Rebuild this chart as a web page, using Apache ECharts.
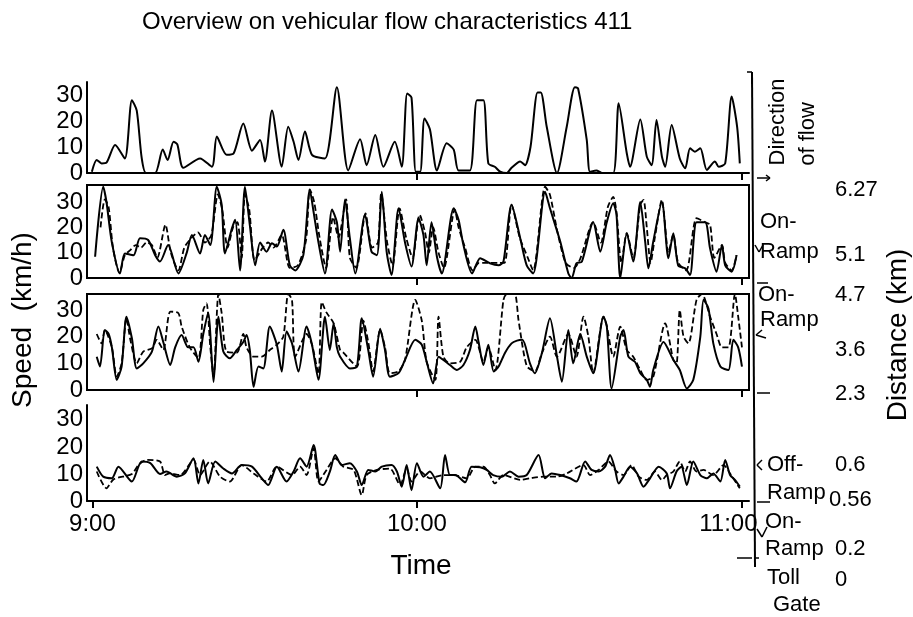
<!DOCTYPE html>
<html><head><meta charset="utf-8">
<script src="https://cdn.jsdelivr.net/npm/echarts@6/dist/echarts.min.js"></script>
<style>html,body{margin:0;padding:0;background:#fff}#c{width:913px;height:617px}</style>
</head><body><div id="c"></div><script>
// ---- data (minutes after 9:00, speed km/h) ----
const tickMinutes = [0, 60, 120];
const timeLabels = ['9:00', '10:00', '11:00'];
const speedTicks = [0, 10, 20, 30];
const distanceLabels = ['6.27', '5.1', '4.7', '3.6', '2.3', '0.6', '0.56', '0.2', '0'];
const siteLabels = ['Direction of flow', 'On-Ramp', 'On-Ramp', 'Off-Ramp', 'On-Ramp', 'Toll Gate'];

const p1Time = [-0.1,0.8,1.7,2.6,4.2,6.0,7.3,8.2,9.1,9.9,11.6,13.0,13.9,15.0,15.7,16.8,19.9,22.1,23.0,24.8,26.1,27.9,29.5,31.0,31.9,33.2,35.0,36.2,37.2,38.1,39.3,40.6,43.0,45.2,47.3,49.5,50.7,52.3,53.8,55.9,57.2,58.2,59.0,59.8,60.6,61.4,62.4,63.7,65.5,66.8,67.7,69.8,71.1,72.3,73.2,74.4,75.4,76.6,77.5,79.1,80.0,81.0,82.3,82.9,84.0,85.9,87.7,89.2,89.8,91.4,92.0,93.2,94.2,96.3,97.3,98.8,99.4,101.3,102.5,103.4,104.3,105.3,105.9,107.1,108.6,109.6,110.5,111.4,112.4,113.6,115.1,115.8,117.0,118.2,119.2,119.7];
const p1Speed = [0.5,5,3.7,4,10.8,5.6,28,24,6,0,0,9,5,12,11,2,5.6,2.4,14,7,7.5,19,8.6,12.7,4.4,24,2.4,17.8,12,5,16,7,5.6,33,1,13,3,14.6,2.4,12,2.4,30.6,29,0.5,0.5,21,16.8,1,11.4,9,1,1,28,28,3.7,2.4,0.5,0,2,4.4,3,10,31,31,17.8,0,17.8,33,32.5,12.7,0.5,1,0,0,26.8,7.6,2.4,20.6,6.3,3,20.4,6.3,2.4,18.5,5.6,1.8,9.5,8.2,9.5,1.2,4.4,2.4,3.7,29.4,17.8,3.7];

const p2SolidTime = [0.5,2.0,2.6,3.6,5.1,6.0,7.6,8.8,10.3,11.6,12.5,14.0,15.9,17.4,18.4,19.9,20.8,21.8,23.0,23.9,24.5,25.8,26.4,27.3,28.2,29.1,30.1,31.0,32.2,33.2,34.1,35.3,36.5,37.5,39.0,40.2,40.9,41.8,43.0,44.3,45.2,45.8,46.7,47.6,48.6,50.4,51.6,52.6,53.5,54.4,55.3,56.6,57.8,59.0,60.3,61.2,61.8,62.7,63.7,64.6,66.8,67.7,68.6,70.2,71.7,73.5,75.1,76.0,77.5,79.1,80.3,81.5,83.7,84.6,86.5,88.0,88.6,89.5,90.5,92.6,93.9,95.1,96.3,96.9,97.6,98.8,100.0,101.3,102.2,102.8,103.7,105.3,106.5,107.4,108.3,109.6,110.5,111.7,113.3,114.2,115.4,116.4,117.0,118.2,119.1];
const p2SolidSpeed = [8.4,36,30,14,1.8,9.7,9,15.7,15,9,6.5,13,1.8,9.7,17,9.7,17,13,36,29,9.7,19.6,23,3,36,21,5,14,10.4,13.7,12.4,19,5,3,9,34.8,26,14,1.8,27,22,10.4,31,15.7,1.8,25,10.4,9,34,10.4,1.2,27.5,14,4.5,23.6,17,5,22,8.4,1.8,27.5,23,13,1.8,7.8,5.8,5,6.5,28.9,15.7,5,1.8,34,27.5,14.4,1.8,0,5.8,6.5,22,10.4,22,29.5,25,0,17.7,6.5,30,14.4,3.8,14.4,30,7.8,17.7,5,3.8,1.2,22,22,11.7,2.5,13,5,2.5,9];
const p2DashTime = [1.5,2.3,3.0,3.8,5.0,6.0,7.0,8.0,9.0,10.0,11.0,12.0,13.5,14.5,15.9,17.0,18.4,19.5,20.8,22.0,23.2,24.0,25.0,26.0,26.8,27.6,28.2,29.0,30.0,31.5,32.5,33.5,35.0,36.5,38.0,39.5,40.2,41.0,42.0,43.2,44.5,45.5,46.9,47.6,48.8,50.5,51.7,52.8,53.4,54.5,55.5,56.8,58.0,59.2,60.5,61.5,62.2,63.0,64.0,65.0,67.0,67.7,68.9,70.3,71.5,72.5,73.5,75.0,76.2,77.5,79.0,80.5,81.5,83.7,84.6,86.0,87.5,89.0,90.2,92.6,94.0,95.3,96.3,96.9,97.8,98.8,100.0,101.3,101.9,102.5,103.2,104.0,105.3,105.7,106.5,107.4,108.3,109.8,111.7,113.3,114.2,115.0,116.4,117.0,118.2,119.1];
const p2DashSpeed = [20,31,28,12,2,9,11,13,12,14,13,8,21,10,3,12,16,18,14,17,33,27,12,20,22,8,33,27,7,12,14,12,17,4,5,15,35,30,16,4,24,16,31,8,4,25.5,12,14,33.5,14,5,27.5,16,8,25,18,10,20,10,4,27,20,12,3,6,6,6,6,6,28.9,16,8,3,36,32.8,18,6,4,7.6,22,14,28,32,26,6,17.7,8,29,30.8,20,6,16,30.8,25,10,17,6,3,23.6,22,21,8,13,6,3,9];

const p3SolidTime = [0.8,1.4,2.3,3.0,3.6,4.5,5.4,6.3,7.3,8.2,9.4,11.0,12.2,13.1,14.4,15.3,16.5,17.7,18.7,19.6,20.5,21.4,22.4,23.3,24.2,25.4,26.7,27.9,28.5,29.1,29.8,30.7,31.6,32.8,34.1,35.0,35.9,36.9,38.1,39.6,40.6,41.8,43.0,43.9,44.6,45.2,45.8,47.6,48.9,49.8,51.0,51.9,53.2,54.1,55.0,56.6,57.8,59.7,60.9,61.8,63.0,64.0,64.9,66.1,67.4,68.6,69.8,70.8,71.4,72.3,73.2,74.2,75.1,76.3,77.5,78.5,79.5,80.9,81.8,83.1,84.6,85.9,86.8,88.0,88.9,90.2,91.4,92.6,94.5,95.1,96.0,97.6,98.2,99.1,100.3,101.3,102.5,103.1,103.7,105.6,107.4,108.6,109.9,111.1,112.4,113.0,113.9,114.8,116.1,117.6,118.5,119.4,120.1];
const p3SolidSpeed = [12.5,8.8,22.5,21,16,3.8,8.8,27.5,19.4,8.1,10,14.4,23.8,18,9.4,16,20.6,16,16,10.6,21,29,3,27.5,14.4,11.9,15,18,20.6,15,1.2,8.8,8.1,23.8,17,6.9,21.9,17.5,6.9,23.8,17,3.8,27.5,15,25,16,12.5,8.1,8.8,26.9,15,5,23,15,5,6.3,11.3,18.8,17,10.6,2.5,12.5,11.3,9.4,7.5,9.4,15,23.8,18,9.4,17,6.9,8.8,14,17.5,18.5,18.8,10,6.3,13.8,26.9,12.5,3.1,22.5,10,21,12.5,6.3,27.5,24,0.6,20,22.5,12.5,10.6,6.3,3.8,1.2,7.5,18,11.3,7.5,0.6,3.8,20,33.8,30.6,17.5,8.8,7.5,18.8,16,8.8];
const p3DashTime = [0.8,1.7,2.3,3.6,4.5,5.4,6.3,7.0,8.2,9.4,11.0,11.9,13.1,14.4,15.9,16.5,18.0,19.6,20.5,21.1,21.8,22.4,23.3,23.9,24.8,26.7,27.9,28.5,29.8,31.3,32.8,34.1,35.3,36.2,36.9,37.5,39.6,40.6,41.8,42.4,43.3,44.6,45.8,46.4,48.9,50.1,51.0,51.9,53.2,54.1,55.0,56.6,57.8,59.7,60.9,61.8,63.4,64.0,64.9,66.1,68.0,69.2,70.8,72.3,73.2,74.5,76.0,76.6,77.2,78.1,78.8,80.3,81.8,83.1,84.6,85.9,88.0,89.5,90.8,91.7,92.6,94.5,95.1,96.3,97.6,98.8,100.0,101.3,102.5,103.7,105.9,107.4,108.0,108.6,109.3,110.2,111.7,112.7,114.2,115.4,116.4,117.6,118.8,119.4,120.1];
const p3DashSpeed = [21,17.5,22.5,16,5,10,27,19,10,14.4,15.6,18.8,15,29.4,28.8,23.8,16,12,30,32.5,16,5,36,28.8,14.4,14,21,16,12.5,12.5,15,17,20,36,33.8,12.5,21,17,6,33,29,25,15,14,8.8,26,18,7,22.5,16,6.3,7,11.3,33.8,26,10.6,3.8,27.5,12.5,10,10.6,16,18.8,10.6,16,7.5,33.8,36,36,36,26,9,7,13.8,20,12.5,21,12.5,27.5,20,6.3,27.5,24,12.5,23.8,15,12.5,7.5,3.8,5,25,11.3,10,30,20,17.5,33.8,36,27.5,21,16,16,36,27.5,16];

const p4SolidTime = [0.8,2.0,3.6,4.8,7.3,9.1,10.7,12.5,13.7,15.6,17.1,18.7,19.6,20.5,21.4,22.7,24.2,25.8,27.6,29.5,31.3,32.5,34.1,35.9,37.2,38.4,39.6,40.9,42.0,42.7,43.9,44.9,46.1,47.6,48.9,49.8,51.0,52.3,53.5,55.3,56.3,57.2,58.1,59.0,60.0,61.2,62.4,64.3,65.2,66.1,67.1,68.9,70.1,71.7,72.9,74.1,75.7,77.2,78.8,80.3,82.5,83.7,84.9,86.5,88.3,89.5,91.1,92.3,93.6,94.8,95.7,96.6,97.3,98.2,99.4,100.7,101.9,103.1,104.7,106.2,106.8,108.0,108.9,109.9,111.1,112.4,113.6,114.8,116.1,117.0,117.9,118.8,119.7];
const p4SolidSpeed = [12.7,9,8.4,12.7,7.2,14.6,14,10,10.9,9,10.2,15.8,6.5,15.2,6.5,14.6,12,10.2,13.3,12.7,8.4,5.9,12.7,7.2,10.9,15.8,12.7,20.7,6.5,5.9,10.9,17,13.3,14,10.9,5.9,11.5,10.9,12.7,13.3,10.9,5.3,13.3,4,14,9,10.9,4.7,17,9.6,9.6,6.9,12.7,12.5,11.5,9.6,9,10.9,9,9.6,17,8.4,10.2,9.6,8.4,7.2,14.6,11.5,10.9,12.7,17,12,6.5,9,12.7,10.2,5.3,8.4,12.7,10.2,4.7,10.9,12.7,5.9,14.6,9.6,8.4,10.2,7.2,15.2,9.6,7.8,5.3];
const p4DashTime = [0.8,2.6,3.9,7.3,8.5,10.0,12.5,13.4,14.3,16.2,18.7,19.9,21.7,23.6,25.4,27.6,29.8,32.2,34.1,36.9,38.4,39.6,40.9,41.8,43.3,44.9,46.4,48.3,49.8,50.7,52.6,55.0,56.9,58.1,59.0,60.6,62.4,64.9,66.8,69.2,70.8,72.3,73.5,74.4,76.0,79.1,80.9,83.4,85.9,87.7,90.8,92.0,93.6,95.4,96.9,98.2,99.7,101.0,102.5,104.0,105.3,106.2,107.4,108.6,109.6,110.5,111.7,113.0,114.8,116.7,117.9,119.1,119.7];
const p4DashSpeed = [10.9,4.7,8,10,13.3,15.2,14.6,9.6,10.2,9.6,15.2,9.6,14.6,9,7.2,13.3,10.2,7.2,12.7,9.6,12.7,9.6,19.5,7.2,11.5,15.8,12.7,11.5,2.2,9.6,11.5,12,5.9,12,7.2,10.9,8.4,9.6,9.6,8.4,12.7,12.7,9.6,6.5,9.6,7.8,8.4,9,9,10.2,13.3,9.6,11.5,14.6,10.9,9.6,13.3,9,7.8,10.9,7.8,9.6,10.9,14.6,10.9,14.6,10.9,11.5,9.6,13.3,10.2,6.5,4.7];

// ---- chart ----
const FONT = '"Liberation Sans", Arial, sans-serif';
const zip = (t, v) => t.map((x, i) => [x, v[i]]);
const chart = echarts.init(document.getElementById('c'), null, {renderer: 'canvas'});

const panels = [
  {top: 82, height: 91, max: 35, box: false},
  {top: 185, height: 93, max: 36.7, box: true},
  {top: 294, height: 96, max: 36, box: true},
  {top: 405, height: 96, max: 35.5, box: false}
];
const XMIN = -1, XMAX = 121.4;

const grids = panels.map(p => ({
  left: 87, width: 662, top: p.top, height: p.height,
  show: p.box, borderColor: '#000', borderWidth: 2, backgroundColor: 'transparent'
}));

const xAxes = panels.map((p, i) => ({
  type: 'value', gridIndex: i, min: XMIN, max: XMAX,
  axisLine: {show: true, onZero: false, lineStyle: {color: '#000', width: 2}},
  splitLine: {show: false},
  axisTick: {show: true, customValues: i === 3 ? tickMinutes : tickMinutes.slice(1), length: 7, lineStyle: {color: '#000', width: 2}},
  axisLabel: i === 3 ? {
    show: true, customValues: tickMinutes, margin: 11, color: '#000', fontSize: 24, fontFamily: FONT,
    formatter: v => {
      const k = tickMinutes.indexOf(v);
      if (k < 0) return '';
      return k === 2 ? '{r|' + timeLabels[k] + '}' : timeLabels[k];
    },
    rich: {r: {fontSize: 24, fontFamily: FONT, color: '#000', padding: [0, 26, 0, 0]}}
  } : {show: false}
}));

const yAxes = panels.map((p, i) => ({
  type: 'value', gridIndex: i, min: 0, max: p.max, interval: 10,
  axisLine: {show: true, onZero: false, lineStyle: {color: '#000', width: 2}},
  axisTick: {show: false},
  splitLine: {show: false},
  axisLabel: {
    show: true, customValues: speedTicks, margin: 4, color: '#000', fontSize: 24, fontFamily: FONT,
    formatter: v => (speedTicks.indexOf(v) >= 0 ? String(v) : '')
  }
}));

const solid = (idx, data) => ({
  type: 'line', xAxisIndex: idx, yAxisIndex: idx, data, symbol: 'none', smooth: 0.25,
  lineStyle: {color: '#000', width: 2}, z: 3, silent: true
});
const dashed = (idx, data) => ({
  type: 'line', xAxisIndex: idx, yAxisIndex: idx, data, symbol: 'none', smooth: 0.25,
  lineStyle: {color: '#000', width: 1.8, type: [6, 3]}, z: 2, silent: true
});

const series = [
  solid(0, zip(p1Time, p1Speed)),
  dashed(1, zip(p2DashTime, p2DashSpeed)),
  solid(1, zip(p2SolidTime, p2SolidSpeed)),
  dashed(2, zip(p3DashTime, p3DashSpeed)),
  solid(2, zip(p3SolidTime, p3SolidSpeed)),
  dashed(3, zip(p4DashTime, p4DashSpeed)),
  solid(3, zip(p4SolidTime, p4SolidSpeed))
];

const txt = (s, x, y, size, align) => ({
  type: 'text', x, y, silent: true,
  style: {text: s, font: size + 'px ' + FONT, fill: '#000', align: align || 'left', verticalAlign: 'middle'}
});
const rtxt = (s, x, y, size) => ({
  type: 'text', x, y, rotation: Math.PI / 2, silent: true,
  style: {text: s, font: size + 'px ' + FONT, fill: '#000', align: 'center', verticalAlign: 'middle'}
});
const ln = (x1, y1, x2, y2, w) => ({
  type: 'line', silent: true, shape: {x1, y1, x2, y2}, style: {stroke: '#000', lineWidth: w || 1.5}
});

const dirWords = siteLabels[0].split(' ');
const ramp = s => s.split('-');
const graphics = [
  txt('Overview on vehicular flow characteristics 411', 142, 22, 24),
  txt('Time', 421, 566, 28, 'center'),
  rtxt('Speed  (km/h)', 23, 320, 28),
  rtxt('Distance (km)', 898, 335, 28),
  rtxt(dirWords[0], 778, 122, 22),
  rtxt(dirWords[1] + ' ' + dirWords[2], 808, 134, 22),
  // site labels
  txt(ramp(siteLabels[1])[0] + '-', 760, 222, 22),
  txt(ramp(siteLabels[1])[1], 760, 252, 22),
  txt(ramp(siteLabels[2])[0] + '-', 758, 295, 22),
  txt(ramp(siteLabels[2])[1], 760, 320, 22),
  txt(ramp(siteLabels[3])[0] + '-', 767, 465, 22),
  txt(ramp(siteLabels[3])[1], 767, 493, 22),
  txt(ramp(siteLabels[4])[0] + '-', 765, 522, 22),
  txt(ramp(siteLabels[4])[1], 765, 549, 22),
  txt(siteLabels[5].split(' ')[0], 767, 578, 22),
  txt(siteLabels[5].split(' ')[1], 773, 605, 22),
  // distance values
  txt(distanceLabels[0], 835, 190, 22),
  txt(distanceLabels[1], 835, 255, 22),
  txt(distanceLabels[2], 835, 295, 22),
  txt(distanceLabels[3], 835, 350, 22),
  txt(distanceLabels[4], 835, 394, 22),
  txt(distanceLabels[5], 835, 465, 22),
  txt(distanceLabels[6], 829, 500, 22),
  txt(distanceLabels[7], 835, 549, 22),
  txt(distanceLabels[8], 835, 580, 22),
  // distance line and its marks
  ln(752, 72, 755, 567, 2),
  ln(752, 72, 752, 84, 2), ln(747, 72, 752, 72, 1.5),
  ln(757, 178, 770, 178), ln(766, 175, 770, 178), ln(766, 181, 770, 178),
  ln(755, 245, 759, 252), ln(759, 252, 763, 245),
  ln(757, 283, 768, 283),
  ln(762, 330, 756, 335), ln(756, 335, 766, 338),
  ln(757, 393, 770, 393),
  ln(762, 460, 757, 465), ln(757, 465, 762, 470),
  ln(757, 502, 770, 502),
  ln(757, 529, 762, 537), ln(762, 537, 767, 527),
  ln(737, 558, 752, 558), ln(755, 558, 759, 558)
];

chart.setOption({
  backgroundColor: '#fff',
  animation: false,
  grid: grids,
  xAxis: xAxes,
  yAxis: yAxes,
  series,
  graphic: graphics
});
</script></body></html>
